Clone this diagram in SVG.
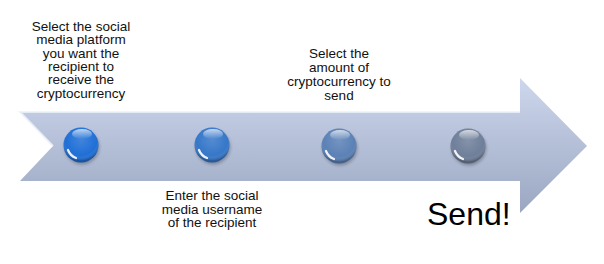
<svg xmlns="http://www.w3.org/2000/svg" width="604" height="264" viewBox="0 0 604 264">
  <defs>
    <linearGradient id="arrowFill" x1="0" y1="0" x2="0" y2="1" gradientUnits="objectBoundingBox">
      <stop offset="0" stop-color="#cdd8ee"/>
      <stop offset="1" stop-color="#9ba6c1"/>
    </linearGradient>
    <radialGradient id="shine" cx="0.5" cy="0.35" r="0.6">
      <stop offset="0" stop-color="#ffffff" stop-opacity="0.15"/>
      <stop offset="0.75" stop-color="#ffffff" stop-opacity="0"/>
      <stop offset="1" stop-color="#000000" stop-opacity="0.25"/>
    </radialGradient>
    <linearGradient id="topGloss" x1="0" y1="0" x2="0" y2="1">
      <stop offset="0" stop-color="#ffffff" stop-opacity="0.7"/>
      <stop offset="1" stop-color="#ffffff" stop-opacity="0"/>
    </linearGradient>
    <filter id="soft" x="-50%" y="-50%" width="200%" height="200%">
      <feGaussianBlur stdDeviation="1.5"/>
    </filter>
  </defs>
  <style>
    .lbl { font-family: "Liberation Sans", Arial, sans-serif; font-size: 13.5px; fill: #111; text-anchor: middle; }
    .big { font-family: "Liberation Sans", Arial, sans-serif; font-size: 32px; fill: #000; }
    .shadow { fill: #000; opacity: 0.25; filter: url(#soft); }
    .gloss { fill: url(#shine); }
    .crescent { fill: none; stroke: #ffffff; stroke-width: 2.2; stroke-linecap: round; opacity: 0.9; }
    .topg { fill: url(#topGloss); }
  </style>
  <rect width="604" height="264" fill="#ffffff"/>

  <g id="arrow">
    <polygon points="20,112 520,112 520,78 587,146 520,213 520,181 20,181 53,146" fill="url(#arrowFill)"/>
    <polyline points="53,146 20,112 520,112" fill="none" stroke="#eef2fa" stroke-width="2" opacity="0.8"/>
  </g>

  <g id="connectors"></g>

  <g id="step1">
    <circle cx="82" cy="147" r="17.5" class="shadow"/>
    <circle cx="81" cy="145" r="17.5" fill="#1f6fd6"/>
    <circle cx="81" cy="145" r="17.5" class="gloss"/>
    <ellipse cx="82" cy="134" rx="10" ry="5" class="topg"/>
    <path d="M68,150 A14,14 0 0 0 76,158" class="crescent"/>
    <text class="lbl" x="81" y="31">Select the social</text>
    <text class="lbl" x="81" y="44.3">media platform</text>
    <text class="lbl" x="81" y="57.6">you want the</text>
    <text class="lbl" x="81" y="70.9">recipient to</text>
    <text class="lbl" x="81" y="84.2">receive the</text>
    <text class="lbl" x="81" y="97.5">cryptocurrency</text>
  </g>

  <g id="step2">
    <circle cx="213" cy="147" r="17.5" class="shadow"/>
    <circle cx="212" cy="145" r="17.5" fill="#3677c9"/>
    <circle cx="212" cy="145" r="17.5" class="gloss"/>
    <ellipse cx="213" cy="134" rx="10" ry="5" class="topg"/>
    <path d="M199,150 A14,14 0 0 0 207,158" class="crescent"/>
    <text class="lbl" x="212" y="200">Enter the social</text>
    <text class="lbl" x="212" y="213.5">media username</text>
    <text class="lbl" x="212" y="227">of the recipient</text>
  </g>

  <g id="step3">
    <circle cx="340" cy="148" r="17.5" class="shadow"/>
    <circle cx="339" cy="146" r="17.5" fill="#5b81b6"/>
    <circle cx="339" cy="146" r="17.5" class="gloss"/>
    <ellipse cx="340" cy="135" rx="10" ry="5" class="topg"/>
    <path d="M326,151 A14,14 0 0 0 334,159" class="crescent"/>
    <text class="lbl" x="339" y="58">Select the</text>
    <text class="lbl" x="339" y="72">amount of</text>
    <text class="lbl" x="339" y="86">cryptocurrency to</text>
    <text class="lbl" x="339" y="100">send</text>
  </g>

  <g id="step4">
    <circle cx="469" cy="148" r="17.5" class="shadow"/>
    <circle cx="468" cy="146" r="17.5" fill="#6f7f9a"/>
    <circle cx="468" cy="146" r="17.5" class="gloss"/>
    <ellipse cx="469" cy="135" rx="10" ry="5" class="topg"/>
    <path d="M455,151 A14,14 0 0 0 463,159" class="crescent"/>
    <text class="big" x="427" y="225">Send!</text>
  </g>
</svg>
